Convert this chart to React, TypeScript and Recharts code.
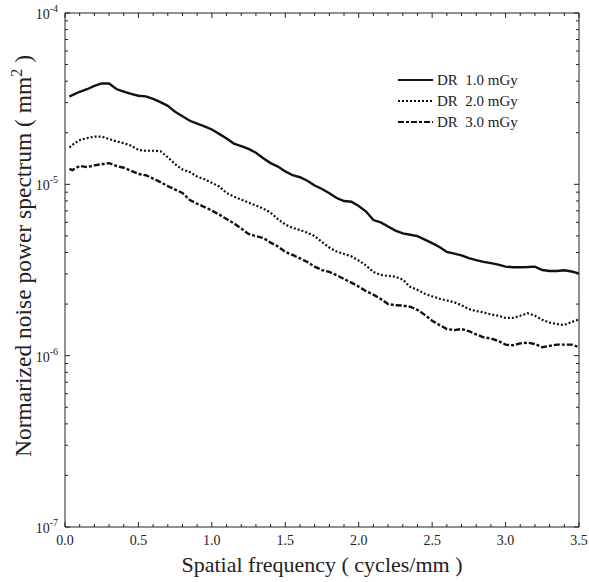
import React from 'react';
import { LineChart, Line, XAxis, YAxis, Legend } from 'recharts';

// Spatial frequency (cycles/mm)
const frequencies = [
  0.03, 0.05, 0.1, 0.15, 0.2, 0.25, 0.3, 0.35, 0.4, 0.45, 0.5, 0.55, 0.6, 0.65, 0.7, 0.75,
  0.8, 0.85, 0.9, 0.95, 1.0, 1.05, 1.1, 1.15, 1.2, 1.25, 1.3, 1.35, 1.4, 1.45, 1.5, 1.55,
  1.6, 1.65, 1.7, 1.75, 1.8, 1.85, 1.9, 1.95, 2.0, 2.05, 2.1, 2.15, 2.2, 2.25, 2.3, 2.35,
  2.4, 2.45, 2.5, 2.55, 2.6, 2.65, 2.7, 2.75, 2.8, 2.85, 2.9, 2.95, 3.0, 3.05, 3.1, 3.15,
  3.2, 3.25, 3.3, 3.35, 3.4, 3.45, 3.5,
];

// NNPS values in units of 1e-5 mm^2
const dr10 = [
  3.25, 3.32, 3.47, 3.59, 3.75, 3.88, 3.88, 3.6, 3.48, 3.37, 3.29, 3.26, 3.15, 3.02, 2.87, 2.65,
  2.5, 2.35, 2.26, 2.18, 2.09, 1.97, 1.85, 1.73, 1.67, 1.61, 1.53, 1.42, 1.33, 1.27, 1.19, 1.13,
  1.1, 1.05, 0.984, 0.939, 0.886, 0.832, 0.799, 0.791, 0.747, 0.694, 0.619, 0.6, 0.567, 0.537, 0.517, 0.508,
  0.499, 0.476, 0.454, 0.431, 0.403, 0.394, 0.385, 0.371, 0.361, 0.353, 0.347, 0.34, 0.331, 0.328, 0.328, 0.329,
  0.331, 0.316, 0.312, 0.312, 0.315, 0.31, 0.302,
];
const dr20 = [
  1.64, 1.7, 1.81, 1.86, 1.9, 1.9, 1.84, 1.78, 1.74, 1.68, 1.59, 1.57, 1.57, 1.56, 1.44, 1.31,
  1.22, 1.18, 1.11, 1.07, 1.02, 0.971, 0.89, 0.849, 0.815, 0.783, 0.752, 0.722, 0.683, 0.627, 0.582, 0.557,
  0.541, 0.522, 0.499, 0.46, 0.428, 0.405, 0.392, 0.38, 0.359, 0.336, 0.308, 0.296, 0.292, 0.289, 0.278, 0.252,
  0.242, 0.23, 0.222, 0.215, 0.21, 0.205, 0.197, 0.187, 0.182, 0.179, 0.174, 0.171, 0.166, 0.166, 0.171, 0.177,
  0.171, 0.162, 0.156, 0.153, 0.151, 0.157, 0.163,
];
const dr30 = [
  1.23, 1.21, 1.28, 1.26, 1.29, 1.31, 1.33, 1.28, 1.25, 1.2, 1.15, 1.13, 1.08, 1.03, 0.977, 0.932,
  0.89, 0.81, 0.77, 0.737, 0.703, 0.666, 0.627, 0.592, 0.552, 0.513, 0.499, 0.486, 0.457, 0.434, 0.403, 0.387,
  0.37, 0.352, 0.331, 0.316, 0.308, 0.295, 0.28, 0.267, 0.253, 0.238, 0.227, 0.214, 0.2, 0.197, 0.196, 0.193,
  0.185, 0.173, 0.16, 0.151, 0.143, 0.141, 0.143, 0.139, 0.133, 0.128, 0.126, 0.122, 0.116, 0.115, 0.118, 0.119,
  0.117, 0.112, 0.114, 0.116, 0.116, 0.116, 0.112,
];
const UNIT = 1e-5;

const seriesNames = ['DR\u00A0\u00A01.0 mGy', 'DR\u00A0\u00A02.0 mGy', 'DR\u00A0\u00A03.0 mGy'];
const seriesKeys = ['dr1', 'dr2', 'dr3'];
const seriesDash = ['', '2 2', '6 2 3 2'];

const xMajorTicks = [0, 0.5, 1.0, 1.5, 2.0, 2.5, 3.0, 3.5];
const xTickLabels = ['0.0', '0.5', '1.0', '1.5', '2.0', '2.5', '3.0', '3.5'];
const xAllTicks = [
  0, 0.1, 0.2, 0.3, 0.4, 0.5, 0.6, 0.7, 0.8, 0.9, 1.0, 1.1, 1.2, 1.3, 1.4, 1.5, 1.6, 1.7,
  1.8, 1.9, 2.0, 2.1, 2.2, 2.3, 2.4, 2.5, 2.6, 2.7, 2.8, 2.9, 3.0, 3.1, 3.2, 3.3, 3.4, 3.5,
];
const yExponents = [-7, -6, -5, -4];
const yMinorMultipliers = [2, 3, 4, 5, 6, 7, 8, 9];

const yAllTicks: number[] = [];
yExponents.forEach((e, i) => {
  yAllTicks.push(Math.pow(10, e));
  if (i < yExponents.length - 1) {
    yMinorMultipliers.forEach((m) => yAllTicks.push(m * Math.pow(10, e)));
  }
});

const data = frequencies.map((f, i) => ({
  f,
  dr1: dr10[i] * UNIT,
  dr2: dr20[i] * UNIT,
  dr3: dr30[i] * UNIT,
}));

const FONT = '"Liberation Serif", "Times New Roman", serif';
const INK = '#222';

const majorXIndex = (v: number) => xMajorTicks.findIndex((t) => Math.abs(t - v) < 1e-6);
const majorYExp = (v: number) => {
  const l = Math.log10(v);
  return Math.abs(l - Math.round(l)) < 1e-6 ? Math.round(l) : null;
};

const XBottomTick = (props: any) => {
  const { x, y, payload } = props;
  const idx = majorXIndex(payload.value);
  const major = idx >= 0;
  return (
    <g>
      <line x1={x} x2={x} y1={y} y2={y - (major ? 5 : 3)} stroke={INK} strokeWidth={1} />
      {major && (
        <text x={x} y={y + 18} textAnchor="middle" fontSize={14} fontFamily={FONT} fill={INK}>
          {xTickLabels[idx]}
        </text>
      )}
    </g>
  );
};

const XTopTick = (props: any) => {
  const { x, y, payload } = props;
  const major = majorXIndex(payload.value) >= 0;
  return <line x1={x} x2={x} y1={y} y2={y + (major ? 5 : 3)} stroke={INK} strokeWidth={1} />;
};

const YLeftTick = (props: any) => {
  const { x, y, payload } = props;
  const e = majorYExp(payload.value);
  const major = e !== null;
  return (
    <g>
      <line x1={x} x2={x + (major ? 5 : 3)} y1={y} y2={y} stroke={INK} strokeWidth={1} />
      {major && (
        <text x={x - 7} y={y + 6} textAnchor="end" fontSize={14} fontFamily={FONT} fill={INK}>
          10
          <tspan dy={-7} fontSize={10}>
            {String(e)}
          </tspan>
        </text>
      )}
    </g>
  );
};

const YRightTick = (props: any) => {
  const { x, y, payload } = props;
  const major = majorYExp(payload.value) !== null;
  return <line x1={x} x2={x - (major ? 5 : 3)} y1={y} y2={y} stroke={INK} strokeWidth={1} />;
};

const XTitle = (props: any) => {
  const vb = props.viewBox || { x: 65, y: 527, width: 514, height: 55 };
  return (
    <text x={vb.x + vb.width / 2} y={vb.y + 45} textAnchor="middle" fontSize={22} fontFamily={FONT} fill={INK}>
      Spatial frequency ( cycles/mm )
    </text>
  );
};

const YTitle = () => {
  const cx = 31;
  const cy = 256;
  return (
    <text
      x={cx}
      y={cy}
      transform={`rotate(-90, ${cx}, ${cy})`}
      textAnchor="middle"
      fontSize={23.5}
      fontFamily={FONT}
      fill={INK}
    >
      Normarized noise power spectrum ( mm
      <tspan dy={-9} fontSize={16}>
        2
      </tspan>
      <tspan dy={9}> )</tspan>
    </text>
  );
};

const LegendBox = () => (
  <svg width={160} height={66} style={{ display: 'block' }}>
    {seriesNames.map((name, i) => {
      const cy = 12 + i * 21;
      return (
        <g key={name}>
          <line
            x1={8}
            x2={43}
            y1={cy}
            y2={cy}
            stroke="#111"
            strokeWidth={2.2}
            strokeDasharray={seriesDash[i] || undefined}
          />
          <text x={47} y={cy + 5} fontSize={15} fontFamily={FONT} fill={INK}>
            {name}
          </text>
        </g>
      );
    })}
  </svg>
);

export default function App() {
  return (
    <div style={{ position: 'absolute', left: 0, top: 0, width: 589, height: 582, background: '#fff' }}>
      <LineChart width={589} height={582} data={data} margin={{ top: 0, right: 0, bottom: 0, left: 0 }}>
        <XAxis
          xAxisId="b"
          dataKey="f"
          type="number"
          domain={[0, 3.5]}
          ticks={xAllTicks}
          interval={0}
          allowDataOverflow
          orientation="bottom"
          height={55}
          tickSize={0}
          tickMargin={0}
          tickLine={false}
          axisLine={{ stroke: INK, strokeWidth: 1 }}
          tick={<XBottomTick />}
          label={<XTitle />}
        />
        <XAxis
          xAxisId="t"
          dataKey="f"
          type="number"
          domain={[0, 3.5]}
          ticks={xAllTicks}
          interval={0}
          allowDataOverflow
          orientation="top"
          height={13}
          tickSize={0}
          tickMargin={0}
          tickLine={false}
          axisLine={{ stroke: INK, strokeWidth: 1 }}
          tick={<XTopTick />}
        />
        <YAxis
          yAxisId="l"
          type="number"
          scale="log"
          domain={[1e-7, 1e-4]}
          ticks={yAllTicks}
          interval={0}
          allowDataOverflow
          orientation="left"
          width={65}
          tickSize={0}
          tickMargin={0}
          tickLine={false}
          axisLine={{ stroke: INK, strokeWidth: 1 }}
          tick={<YLeftTick />}
          label={<YTitle />}
        />
        <YAxis
          yAxisId="r"
          type="number"
          scale="log"
          domain={[1e-7, 1e-4]}
          ticks={yAllTicks}
          interval={0}
          allowDataOverflow
          orientation="right"
          width={10}
          tickSize={0}
          tickMargin={0}
          tickLine={false}
          axisLine={{ stroke: INK, strokeWidth: 1 }}
          tick={<YRightTick />}
        />
        {seriesKeys.map((k, i) => (
          <Line
            key={k}
            xAxisId="b"
            yAxisId="l"
            dataKey={k}
            name={seriesNames[i]}
            type="linear"
            stroke="#111"
            strokeWidth={i === 1 ? 2.2 : 2.4}
            strokeDasharray={seriesDash[i] || undefined}
            dot={false}
            activeDot={false}
            isAnimationActive={false}
          />
        ))}
        <Legend
          layout="horizontal"
          verticalAlign="middle"
          align="center"
          content={<LegendBox />}
          wrapperStyle={{ position: 'absolute', left: 390, top: 68, width: 160, height: 66, margin: 0 }}
        />
      </LineChart>
    </div>
  );
}
